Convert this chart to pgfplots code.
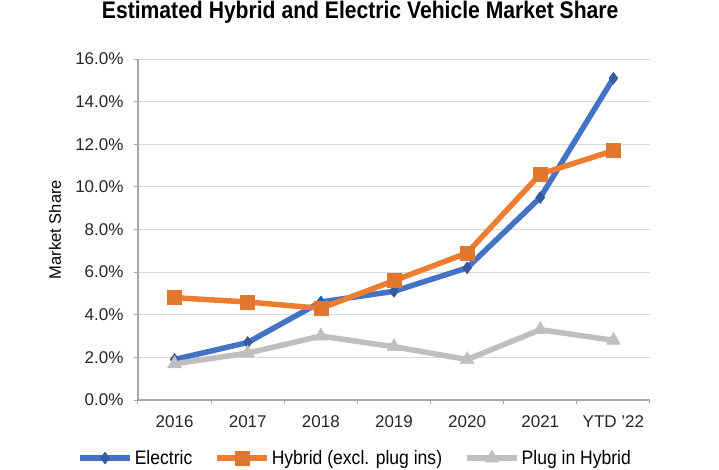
\documentclass[border=0pt]{standalone}
\usepackage{pgfplots}
\pgfplotsset{compat=1.18}
\usepackage{fontspec}
\setmainfont{Liberation Sans}
\newfontfamily\narrowfont[FakeStretch=0.88]{Liberation Sans}
\newfontfamily\legfont[FakeStretch=0.9]{Liberation Sans}

\definecolor{elec}{HTML}{4472C4}
\definecolor{hyb}{HTML}{ED7D31}
\definecolor{plug}{HTML}{BFBFBF}
\definecolor{axisgray}{HTML}{A6A6A6}
\definecolor{gridgray}{HTML}{D9D9D9}

\begin{document}
\begin{tikzpicture}
  % picture frame in px: plot area from (138,59) to (650,400) of a 719x469 canvas
  \path[use as bounding box] (-138pt,-69pt) rectangle (581pt,400pt);
  \begin{axis}[
    at={(0,0)}, anchor=south west,
    scale only axis,
    width=512pt, height=341pt,
    xmin=-0.5, xmax=6.5,
    ymin=0, ymax=16,
    axis lines=left,
    axis line style={-, axisgray, line width=1.2pt},
    xtick={0,...,6},
    xticklabels={2016,2017,2018,2019,2020,2021,YTD '22},
    major x tick style={draw=none},
    minor xtick={-0.5,0.5,...,6.5},
    minor x tick style={axisgray, line width=1pt},
    minor tick length=4pt,
    ytick={0,2,...,16},
    ytick style={axisgray, line width=1pt},
    major tick length=4pt,
    tick align=outside,
    ymajorgrids,
    grid style={gridgray, line width=0.9pt},
    yticklabel={\pgfmathprintnumber[fixed,fixed zerofill,precision=1]{\tick}\%},
    /pgf/number format/assume math mode=true,
    tick label style={font=\fontsize{17}{19}\selectfont, text=black!85},
    xticklabel style={yshift=-8pt},
    yticklabel style={xshift=-7pt},
    ylabel={Market Share},
    every axis y label/.style={at={(rel axis cs:0,0.5)}, xshift=-83pt, rotate=90, anchor=center, font=\fontsize{16.5}{18}\selectfont},
    title={\narrowfont\bfseries Estimated Hybrid and Electric Vehicle Market Share},
    title style={at={(rel axis cs:0.434,1)}, anchor=center, yshift=41pt, font=\fontsize{24}{26}\selectfont},
    legend columns=3,
    legend style={at={(rel axis cs:0.424,0)}, anchor=center, yshift=-58pt, draw=none, fill=none,
      font=\legfont\fontsize{19.5}{21}\selectfont,
      /tikz/every even column/.append style={column sep=20pt}},
    legend image code/.code={
      \draw[#1, mark repeat=2, mark phase=2] plot coordinates {(0pt,0pt) (25pt,0pt) (50pt,0pt)};},
    every axis plot/.append style={line width=5.5pt},
  ]
  \addplot[elec, mark=diamond*, mark size=6pt, mark options={solid, fill=elec!80!black, draw=elec!80!black, line width=0.5pt}]
    coordinates {(0,1.9) (1,2.7) (2,4.6) (3,5.1) (4,6.2) (5,9.5) (6,15.1)};
  \addlegendentry{Electric}
  \addplot[hyb, mark=square*, mark size=7pt, mark options={solid, fill=hyb!95!black, draw=hyb!95!black, line width=0.5pt}]
    coordinates {(0,4.8) (1,4.6) (2,4.3) (3,5.6) (4,6.9) (5,10.6) (6,11.7)};
  \addlegendentry{Hybrid (excl. plug ins)}
  \addplot[plug, mark=triangle*, mark size=8pt, mark options={solid, fill=plug, draw=plug, line width=0.5pt}]
    coordinates {(0,1.7) (1,2.2) (2,3.0) (3,2.5) (4,1.9) (5,3.3) (6,2.8)};
  \addlegendentry{Plug in Hybrid}
  \end{axis}
\end{tikzpicture}
\end{document}
